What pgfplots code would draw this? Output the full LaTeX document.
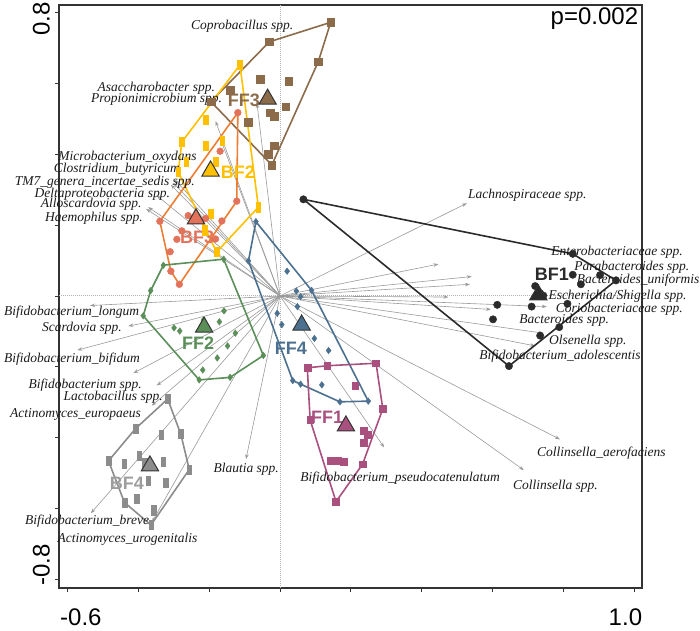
\documentclass[border=0pt]{standalone}
\usepackage{pgfplots}
\pgfplotsset{compat=1.18}
\usepackage{fontspec}
\setmainfont{Liberation Serif}
\setsansfont{Liberation Sans}
\usetikzlibrary{arrows.meta}
\definecolor{cBFone}{HTML}{2B2B2B}
\definecolor{cBFtwo}{HTML}{FFC000}
\definecolor{cBFthree}{HTML}{E2725A}
\definecolor{cBFthreeL}{HTML}{ED7D31}
\definecolor{cBFfour}{HTML}{8C8C8C}
\definecolor{cFFone}{HTML}{A9507E}
\definecolor{cFFtwo}{HTML}{5B8F59}
\definecolor{cFFthree}{HTML}{8C6B4B}
\definecolor{cFFfour}{HTML}{4C7190}
\definecolor{cArr}{HTML}{9A9A9A}
\definecolor{cTxt}{HTML}{1A1A1A}
\pgfplotsset{
  arr/.style={color=cArr, line width=0.6pt, -{Stealth[length=5pt,width=3.5pt]}},
  hull/.style={line width=1.6pt, mark=none},
  cent/.style={only marks, mark=triangle*, mark size=10pt, mark options={fill=#1, draw=black!80, line width=1pt}},
}
\newcommand{\spfont}{\itshape\fontsize{13.5}{15}\selectfont}
\newcommand{\glfont}{\sffamily\bfseries\fontsize{18}{20}\selectfont}
\begin{document}
\begin{tikzpicture}[x=1pt,y=1pt]
\useasboundingbox (0,0) rectangle (700,630);
\begin{axis}[
  at={(59pt,42pt)}, anchor=south west,
  scale only axis, width=583pt, height=583pt,
  xmin=-0.6236, xmax=1.0214, ymin=-0.8249, ymax=0.8220,
  clip=false,
  axis line style={draw=black!80, line width=1.1pt},
  xtick={-0.6,-0.4,-0.2,0,0.2,0.4,0.6,0.8,1.0},
  ytick={-0.8,-0.6,-0.4,-0.2,0,0.2,0.4,0.6,0.8},
  xticklabels={{\hspace*{27pt}\textsf{-0.6}},,,,,,,,{\textsf{1.0}\hspace*{18pt}}},
  yticklabels={{\hspace*{28pt}\textsf{-0.8}},,,,,,,,{\textsf{0.8}\hspace*{12pt}}},
  tick align=outside, tick pos=left,
  major tick length=4pt,
  tick style={line width=0.8pt, black!80},
  xticklabel style={font=\sffamily\fontsize{24}{28}\selectfont, inner sep=0pt, anchor=north, yshift=-17pt},
  yticklabel style={font=\sffamily\fontsize{24}{28}\selectfont, inner sep=0pt, xshift=-5pt, rotate=90, anchor=south},
]
% zero lines
\addplot[color=black!30, densely dotted, line width=1pt] coordinates {(0,-0.8249) (0,0.8220)};
\addplot[color=black!30, densely dotted, line width=1pt] coordinates {(-0.6236,0) (1.0214,0)};
% arrows
\addplot[arr] coordinates {(0,0) (-0.065,0.545)};
\addplot[arr] coordinates {(0,0) (-0.182,0.494)};
\addplot[arr] coordinates {(0,0) (-0.166,0.438)};
\addplot[arr] coordinates {(0,0) (-0.296,0.328)};
\addplot[arr] coordinates {(0,0) (-0.301,0.320)};
\addplot[arr] coordinates {(0,0) (-0.308,0.314)};
\addplot[arr] coordinates {(0,0) (-0.348,0.284)};
\addplot[arr] coordinates {(0,0) (-0.372,0.251)};
\addplot[arr] coordinates {(0,0) (-0.378,0.246)};
\addplot[arr] coordinates {(0,0) (0.527,0.262)};
\addplot[arr] coordinates {(0,0) (0.447,0.090)};
\addplot[arr] coordinates {(0,0) (0.541,0.055)};
\addplot[arr] coordinates {(0,0) (0.536,0.033)};
\addplot[arr] coordinates {(0,0) (0.475,-0.003)};
\addplot[arr] coordinates {(0,0) (0.753,-0.030)};
\addplot[arr] coordinates {(0,0) (0.595,-0.038)};
\addplot[arr] coordinates {(0,0) (0.743,-0.105)};
\addplot[arr] coordinates {(0,0) (0.720,-0.141)};
\addplot[arr] coordinates {(0,0) (0.790,-0.405)};
\addplot[arr] coordinates {(0,0) (0.688,-0.492)};
\addplot[arr] coordinates {(0,0) (0.294,-0.428)};
\addplot[arr] coordinates {(0,0) (-0.096,-0.461)};
\addplot[arr] coordinates {(0,0) (-0.534,-0.614)};
\addplot[arr] coordinates {(0,0) (-0.361,-0.638)};
\addplot[arr] coordinates {(0,0) (-0.362,-0.310)};
\addplot[arr] coordinates {(0,0) (-0.348,-0.253)};
\addplot[arr] coordinates {(0,0) (-0.414,-0.218)};
\addplot[arr] coordinates {(0,0) (-0.572,-0.153)};
\addplot[arr] coordinates {(0,0) (-0.428,-0.085)};
\addplot[arr] coordinates {(0,0) (-0.536,-0.027)};
% hulls
\addplot[hull, color=cFFthree] coordinates {(-0.195,0.549) (-0.030,0.718) (0.143,0.773) (0.108,0.662) (-0.023,0.370) (-0.195,0.549)};
\addplot[hull, color=cBFtwo] coordinates {(-0.113,0.653) (-0.277,0.435) (-0.287,0.350) (-0.179,0.124) (-0.061,0.251) (-0.113,0.653)};
\addplot[hull, color=cBFthreeL] coordinates {(-0.119,0.518) (-0.339,0.211) (-0.308,0.070) (-0.284,0.033) (-0.122,0.268) (-0.119,0.518)};
\addplot[hull, color=cFFtwo] coordinates {(-0.329,0.087) (-0.159,0.104) (-0.047,-0.168) (-0.141,-0.230) (-0.228,-0.237) (-0.386,-0.056) (-0.365,0.015) (-0.329,0.087)};
\addplot[hull, color=cFFfour] coordinates {(-0.068,0.210) (0.089,0.016) (0.249,-0.297) (0.169,-0.299) (0.058,-0.249) (0.036,-0.239) (-0.089,0.099) (-0.068,0.210)};
\addplot[hull, color=cFFone] coordinates {(0.077,-0.203) (0.133,-0.197) (0.271,-0.190) (0.290,-0.319) (0.233,-0.475) (0.158,-0.581) (0.085,-0.350) (0.077,-0.203)};
\addplot[hull, color=cBFfour] coordinates {(-0.317,-0.291) (-0.280,-0.390) (-0.256,-0.490) (-0.364,-0.647) (-0.439,-0.583) (-0.484,-0.466) (-0.408,-0.375) (-0.317,-0.291)};
\addplot[hull, color=cBFone] coordinates {(0.066,0.273) (0.826,0.119) (0.948,0.044) (0.646,-0.198) (0.066,0.273)};
% points
\addplot[only marks, mark=square*, mark size=3.8pt, color=cFFthree] coordinates {(-0.195,0.549) (-0.030,0.718) (0.143,0.773) (0.108,0.662) (-0.023,0.370) (-0.056,0.612) (0.025,0.607) (-0.141,0.582) (0.016,0.535) (-0.028,0.518) (-0.016,0.508) (-0.089,0.491) (-0.016,0.424) (-0.033,0.401)};
\addplot[only marks, mark=square*, mark size=4.6pt, mark options={xscale=0.5}, color=cBFtwo] coordinates {(-0.113,0.653) (-0.210,0.497) (-0.210,0.425) (-0.163,0.439) (-0.277,0.435) (-0.265,0.379) (-0.181,0.379) (-0.287,0.350) (-0.195,0.232) (-0.212,0.186) (-0.179,0.124) (-0.061,0.251)};
\addplot[only marks, mark=*, mark size=3.4pt, color=cBFthree] coordinates {(-0.119,0.518) (-0.169,0.409) (-0.122,0.268) (-0.259,0.227) (-0.210,0.219) (-0.164,0.212) (-0.339,0.211) (-0.277,0.184) (-0.291,0.160) (-0.182,0.161) (-0.310,0.125) (-0.308,0.070) (-0.284,0.033)};
\addplot[only marks, mark=diamond*, mark size=3.3pt, color=cFFtwo] coordinates {(-0.329,0.087) (-0.159,0.104) (-0.047,-0.168) (-0.141,-0.230) (-0.228,-0.237) (-0.386,-0.056) (-0.365,0.015) (-0.158,-0.042) (-0.216,-0.068) (-0.299,-0.090) (-0.283,-0.099) (-0.171,-0.073) (-0.126,-0.105) (-0.148,-0.141) (-0.177,-0.175) (-0.218,-0.209)};
\addplot[only marks, mark=diamond*, mark size=3.3pt, color=cFFfour] coordinates {(-0.068,0.210) (0.089,0.016) (0.249,-0.297) (0.169,-0.299) (0.058,-0.249) (0.036,-0.239) (-0.089,0.099) (0.020,0.070) (0.046,0.014) (0.058,-0.002) (0.049,-0.030) (-0.008,-0.049) (0.005,-0.081) (0.097,-0.120) (0.137,-0.154) (0.118,-0.251)};
\addplot[only marks, mark=square*, mark size=3.4pt, color=cFFone] coordinates {(0.077,-0.203) (0.133,-0.197) (0.271,-0.190) (0.290,-0.319) (0.233,-0.475) (0.158,-0.581) (0.085,-0.350) (0.212,-0.253) (0.235,-0.381) (0.247,-0.391) (0.235,-0.414) (0.144,-0.465) (0.163,-0.465) (0.179,-0.468)};
\addplot[only marks, mark=square*, mark size=4.6pt, mark options={xscale=0.5}, color=cBFfour] coordinates {(-0.317,-0.291) (-0.280,-0.390) (-0.256,-0.490) (-0.364,-0.647) (-0.439,-0.583) (-0.484,-0.466) (-0.408,-0.375) (-0.335,-0.392) (-0.397,-0.451) (-0.440,-0.473) (-0.330,-0.467) (-0.382,-0.470) (-0.372,-0.521) (-0.322,-0.528) (-0.404,-0.573) (-0.357,-0.605)};
\addplot[only marks, mark=*, mark size=3.7pt, color=cBFone] coordinates {(0.066,0.273) (0.826,0.119) (0.948,0.044) (0.646,-0.198) (0.788,-0.088) (0.826,0.060) (0.849,0.033) (0.903,0.059) (0.720,0.028) (0.734,0.008) (0.743,0.001) (0.613,-0.025) (0.710,-0.030) (0.811,-0.022) (0.601,-0.066) (0.734,-0.112)};
% centroids
\addplot[cent=cFFthree] coordinates {(-0.035,0.556)};
\addplot[cent=cBFtwo] coordinates {(-0.196,0.353)};
\addplot[cent=cBFthree] coordinates {(-0.237,0.218)};
\addplot[cent=cFFtwo] coordinates {(-0.214,-0.088)};
\addplot[cent=cFFfour] coordinates {(0.061,-0.082)};
\addplot[cent=cFFone] coordinates {(0.186,-0.367)};
\addplot[cent=cBFfour] coordinates {(-0.367,-0.480)};
\addplot[cent=cBFone] coordinates {(0.729,0.003)};
% group labels
\node[font=\glfont, text=cFFthree, inner sep=0pt] at (axis cs:-0.102,0.554) {FF3};
\node[font=\glfont, text=cBFtwo, inner sep=0pt] at (axis cs:-0.119,0.350) {BF2};
\node[font=\glfont, text=cBFthree, inner sep=0pt] at (axis cs:-0.234,0.167) {BF3};
\node[font=\glfont, text=cFFtwo, inner sep=0pt] at (axis cs:-0.231,-0.133) {FF2};
\node[font=\glfont, text=cFFfour, inner sep=0pt] at (axis cs:0.031,-0.147) {FF4};
\node[font=\glfont, text=cFFone, inner sep=0pt] at (axis cs:0.133,-0.342) {FF1};
\node[font=\glfont, text=cBFfour!85, inner sep=0pt] at (axis cs:-0.432,-0.528) {BF4};
\node[font=\glfont, text=cBFone, inner sep=0pt] at (axis cs:0.767,0.062) {BF1};
% species labels
\begin{scope}[every node/.style={font=\spfont, text=cTxt, inner sep=0pt}]
\node[anchor=base west] at (axis cs:0.530,0.275) {Lachnospiraceae spp.};
\node[anchor=base west] at (axis cs:0.765,0.115) {Enterobacteriaceae spp.};
\node[anchor=base west] at (axis cs:0.830,0.073) {Parabacteroides spp.};
\node[anchor=base west] at (axis cs:0.837,0.035) {Bacteroides\_uniformis};
\node[anchor=base west] at (axis cs:0.757,-0.010) {Escherichia/Shigella spp.};
\node[anchor=base west] at (axis cs:0.778,-0.047) {Coriobacteriaceae spp.};
\node[anchor=base west] at (axis cs:0.675,-0.079) {Bacteroides spp.};
\node[anchor=base west] at (axis cs:0.759,-0.137) {Olsenella spp.};
\node[anchor=base west] at (axis cs:0.562,-0.179) {Bifidobacterium\_adolescentis};
\node[anchor=base west] at (axis cs:0.725,-0.453) {Collinsella\_aerofaciens};
\node[anchor=base west] at (axis cs:0.657,-0.547) {Collinsella spp.};
\node[anchor=base east] at (axis cs:0.621,-0.525) {Bifidobacterium\_pseudocatenulatum};
\node[anchor=base west] at (axis cs:-0.188,-0.498) {Blautia spp.};
\node[anchor=base west] at (axis cs:-0.720,-0.645) {Bifidobacterium\_breve};
\node[anchor=base west] at (axis cs:-0.628,-0.697) {Actinomyces\_urogenitalis};
\node[anchor=base west] at (axis cs:-0.762,-0.344) {Actinomyces\_europaeus};
\node[anchor=base west] at (axis cs:-0.611,-0.294) {Lactobacillus spp.};
\node[anchor=base west] at (axis cs:-0.710,-0.262) {Bifidobacterium spp.};
\node[anchor=base west] at (axis cs:-0.779,-0.189) {Bifidobacterium\_bifidum};
\node[anchor=base west] at (axis cs:-0.672,-0.101) {Scardovia spp.};
\node[anchor=base west] at (axis cs:-0.779,-0.054) {Bifidobacterium\_longum};
\node[anchor=base east] at (axis cs:-0.387,0.211) {Haemophilus spp.};
\node[anchor=base east] at (axis cs:-0.390,0.251) {Alloscardovia spp.};
\node[anchor=base east] at (axis cs:-0.310,0.279) {Deltaproteobacteria spp.};
\node[anchor=base east] at (axis cs:-0.240,0.312) {TM7\_genera\_incertae\_sedis spp.};
\node[anchor=base east] at (axis cs:-0.282,0.348) {Clostridium\_butyricum};
\node[anchor=base east] at (axis cs:-0.235,0.383) {Microbacterium\_oxydans};
\node[anchor=base east] at (axis cs:-0.183,0.579) {Asaccharobacter spp.};
\node[anchor=base east] at (axis cs:-0.163,0.547) {Propionimicrobium spp.};
\node[anchor=base east] at (axis cs:0.038,0.753) {Coprobacillus spp.};
\end{scope}
\node[anchor=base east, font=\sffamily\fontsize{24}{28}\selectfont, inner sep=0pt] at (axis cs:1.011,0.766) {p=0.002};
\end{axis}
\end{tikzpicture}
\end{document}
